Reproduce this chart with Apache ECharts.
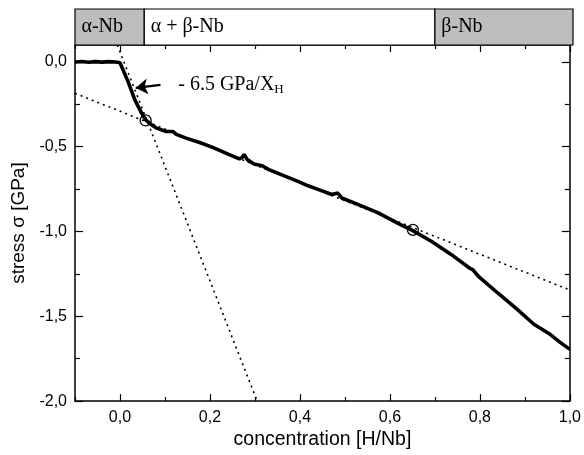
<!DOCTYPE html>
<html>
<head>
<meta charset="utf-8">
<script src="https://cdn.jsdelivr.net/npm/echarts@6/dist/echarts.min.js"></script>
<style>
  html, body { margin: 0; padding: 0; background: #fff; }
  #main { width: 584px; height: 455px; }
</style>
</head>
<body>
<div id="main"></div>
<script>
// measured curve: stress vs H concentration
var concX = [-0.1, -0.085, -0.07, -0.055, -0.04, -0.025, -0.01, 0.0,
  0.018, 0.033, 0.048, 0.057, 0.07, 0.081, 0.103, 0.118, 0.121, 0.125,
  0.147, 0.177, 0.206, 0.243, 0.265, 0.272, 0.276, 0.283, 0.298, 0.316,
  0.331, 0.368, 0.397, 0.412, 0.4415, 0.471, 0.484, 0.493, 0.53, 0.574,
  0.618, 0.651, 0.692, 0.736, 0.776, 0.784, 0.798, 0.839, 0.883, 0.92,
  0.956, 0.979, 1.0];
var stressY = [0.0, 0.003, -0.002, 0.002, -0.001, 0.002, 0.0, -0.005,
  -0.116, -0.224, -0.302, -0.341, -0.37, -0.39, -0.41, -0.41, -0.399, -0.427,
  -0.449, -0.475, -0.504, -0.547, -0.572, -0.562, -0.545, -0.576, -0.602, -0.612,
  -0.635, -0.675, -0.706, -0.724, -0.753, -0.782, -0.773, -0.802, -0.841, -0.89,
  -0.952, -0.995, -1.057, -1.135, -1.214, -1.225, -1.268, -1.361, -1.459, -1.547,
  -1.606, -1.655, -1.695];

// dotted guide lines
var tangentX = [-0.1, 1.0];
var tangentY = [-0.185, -1.345];
var steepX = [-0.006, 0.305];
var steepY = [0.1, -2.0];

// open circles
var circleX = [0.057, 0.651];
var circleY = [-0.345, -0.99];

// arrow + slope text
var arrowFrom = [0.09, -0.135];
var arrowTo = [0.035, -0.153];
var slopeTextAt = [0.125, -0.137];

// phase band on top
var phaseLabels = ['α-Nb', 'α + β-Nb', 'β-Nb'];
var phaseFrom = [-0.1, 0.053, 0.695];
var phaseTo = [0.053, 0.695, 1.0];
var phaseShaded = [true, false, true];

// ticks
var xMajor = [0, 0.2, 0.4, 0.6, 0.8, 1.0];
var xMinor = [-0.1, 0.1, 0.3, 0.5, 0.7, 0.9];
var yMajor = [0, -0.5, -1.0, -1.5, -2.0];
var yMinor = [-0.25, -0.75, -1.25, -1.75];

function zip(a, b) {
  var out = [];
  for (var i = 0; i < a.length; i++) out.push([a[i], b[i]]);
  return out;
}
function comma(v) {
  return v.toFixed(1).replace('.', ',');
}

var sans = 'Liberation Sans';
var serif = 'Liberation Serif';
var lineBlack = { color: '#000', width: 1.5 };

function xAx(pos, ticks, len, labels) {
  return {
    type: 'value', gridIndex: 0, position: pos, min: -0.1, max: 1.0,
    axisLine: { show: labels !== null, onZero: false, lineStyle: lineBlack },
    axisTick: { show: true, inside: true, length: len, customValues: ticks, lineStyle: { color: '#000', width: 1.2 } },
    axisLabel: labels ? { show: true, customValues: ticks, formatter: comma, color: '#000', fontFamily: sans, fontSize: 16, margin: 8 } : { show: false },
    splitLine: { show: false }
  };
}
function yAx(pos, ticks, len, labels) {
  return {
    type: 'value', gridIndex: 0, position: pos, min: -2.0, max: 0.1,
    axisLine: { show: labels !== null, onZero: false, lineStyle: lineBlack },
    axisTick: { show: true, inside: true, length: len, customValues: ticks, lineStyle: { color: '#000', width: 1.2 } },
    axisLabel: labels ? { show: true, customValues: ticks, formatter: comma, color: '#000', fontFamily: sans, fontSize: 16, margin: 8 } : { show: false },
    splitLine: { show: false }
  };
}

var xAxes = [
  xAx('bottom', xMajor, 7, true),
  xAx('bottom', xMinor, 4, false),
  xAx('top', xMajor, 7, false),
  xAx('top', xMinor, 4, false),
  { type: 'value', gridIndex: 1, min: -0.1, max: 1.0, show: false }
];
xAxes[1].axisLine.show = false;
xAxes[3].axisLine.show = false;
xAxes[2].axisLine.show = true;
xAxes[0].name = 'concentration [H/Nb]';
xAxes[0].nameLocation = 'middle';
xAxes[0].nameGap = 27;
xAxes[0].nameTextStyle = { color: '#000', fontFamily: sans, fontSize: 19.5 };

var yAxes = [
  yAx('left', yMajor, 8, true),
  yAx('left', yMinor, 5, false),
  yAx('right', yMajor, 8, false),
  yAx('right', yMinor, 5, false),
  { type: 'value', gridIndex: 1, min: 0, max: 1, show: false }
];
yAxes[1].axisLine.show = false;
yAxes[3].axisLine.show = false;
yAxes[2].axisLine.show = true;
yAxes[0].name = 'stress σ [GPa]';
yAxes[0].nameLocation = 'middle';
yAxes[0].nameGap = 42;
yAxes[0].nameRotate = 90;
yAxes[0].nameTextStyle = { color: '#000', fontFamily: sans, fontSize: 19 };

var bandData = [];
for (var i = 0; i < phaseLabels.length; i++) {
  bandData.push([phaseFrom[i], phaseTo[i], i]);
}

var option = {
  animation: false,
  backgroundColor: '#fff',
  grid: [
    { left: 75, right: 11, top: 45, bottom: 53 },
    { left: 75, right: 11, top: 9, height: 36 }
  ],
  xAxis: xAxes,
  yAxis: yAxes,
  series: [
    {
      type: 'custom', xAxisIndex: 4, yAxisIndex: 4,
      data: bandData,
      renderItem: function (params, api) {
        var p0 = api.coord([api.value(0), 1]);
        var p1 = api.coord([api.value(1), 0]);
        var idx = api.value(2);
        return {
          type: 'rect',
          shape: { x: p0[0], y: p0[1], width: p1[0] - p0[0], height: p1[1] - p0[1] },
          style: { fill: phaseShaded[idx] ? '#bdbdbd' : '#fff', stroke: '#000', lineWidth: 1.2 },
          textContent: {
            style: { text: phaseLabels[idx], fill: '#000', fontFamily: serif, fontSize: 20 }
          },
          textConfig: { position: 'insideLeft', distance: 7 }
        };
      }
    },
    {
      type: 'line', xAxisIndex: 0, yAxisIndex: 0,
      data: zip(tangentX, tangentY), showSymbol: false, silent: true,
      lineStyle: { color: '#000', width: 1.6, type: [2, 4] }
    },
    {
      type: 'line', xAxisIndex: 0, yAxisIndex: 0,
      data: zip(steepX, steepY), showSymbol: false, silent: true,
      lineStyle: { color: '#000', width: 1.6, type: [2, 4] }
    },
    {
      type: 'line', xAxisIndex: 0, yAxisIndex: 0,
      data: zip(concX, stressY), showSymbol: false,
      lineStyle: { color: '#000', width: 3.6 }
    },
    {
      type: 'scatter', xAxisIndex: 0, yAxisIndex: 0,
      data: zip(circleX, circleY), symbol: 'circle', symbolSize: 11,
      itemStyle: { color: 'rgba(0,0,0,0)', borderColor: '#000', borderWidth: 1.3, opacity: 1 }
    },
    {
      type: 'lines', coordinateSystem: 'cartesian2d', xAxisIndex: 0, yAxisIndex: 0,
      data: [{ coords: [arrowFrom, arrowTo] }],
      symbol: ['none', 'arrow'], symbolSize: 12,
      lineStyle: { color: '#000', width: 2.2, opacity: 1 }
    },
    {
      type: 'scatter', xAxisIndex: 0, yAxisIndex: 0,
      data: [slopeTextAt], symbolSize: 0,
      itemStyle: { opacity: 1 },
      label: {
        show: true, position: 'right', distance: 2,
        formatter: '{a|- 6.5 GPa/X}{s|H}',
        rich: {
          a: { fontFamily: serif, fontSize: 20, color: '#000' },
          s: { fontFamily: serif, fontSize: 13, color: '#000', padding: [9, 0, 0, 0] }
        }
      }
    }
  ]
};

var myChart = echarts.init(document.getElementById('main'));
myChart.setOption(option);
</script>
</body>
</html>
